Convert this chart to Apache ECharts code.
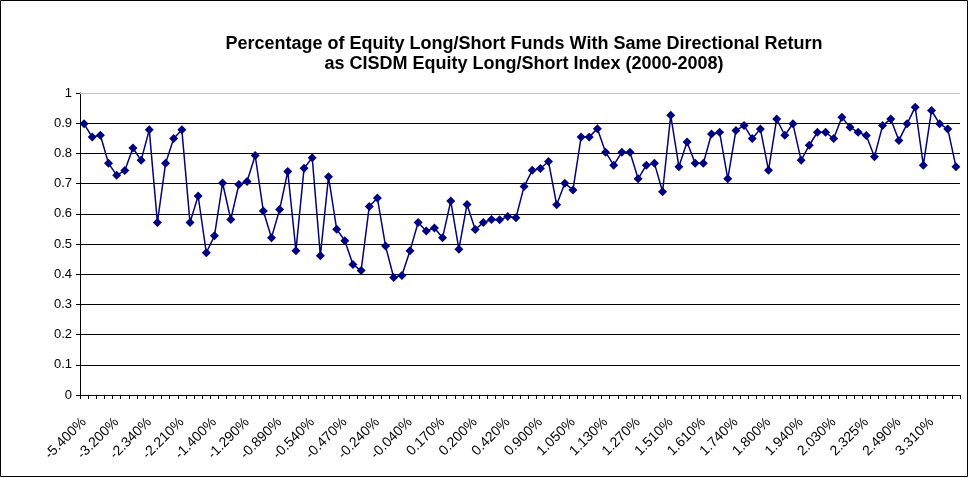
<!DOCTYPE html>
<html>
<head>
<meta charset="utf-8">
<script src="https://cdn.jsdelivr.net/npm/echarts@6/dist/echarts.min.js"></script>
<style>
  html, body { margin: 0; padding: 0; background: #fff; }
  #main { width: 970px; height: 478px; }
</style>
</head>
<body>
<div id="main"></div>
<script>
// labels shown on the x axis, one for every 4th category
const tickLabels = [
  "-5.400%", "-3.200%", "-2.340%", "-2.210%", "-1.400%", "-1.290%", "-0.890%",
  "-0.540%", "-0.470%", "-0.240%", "-0.040%", "0.170%", "0.200%", "0.420%",
  "0.900%", "1.050%", "1.130%", "1.270%", "1.510%", "1.610%", "1.740%",
  "1.800%", "1.940%", "2.030%", "2.325%", "2.490%", "3.310%"
];

// share of funds with the same directional return as the index
const sameDirection = [
  0.898, 0.854, 0.860, 0.767, 0.728, 0.743, 0.818, 0.777, 0.878, 0.571,
  0.767, 0.849, 0.878, 0.571, 0.659, 0.471, 0.527, 0.702, 0.581, 0.697,
  0.707, 0.793, 0.609, 0.521, 0.614, 0.740, 0.478, 0.751, 0.786, 0.461,
  0.723, 0.549, 0.511, 0.432, 0.412, 0.624, 0.652, 0.493, 0.389, 0.396,
  0.478, 0.571, 0.543, 0.553, 0.521, 0.642, 0.483, 0.631, 0.548, 0.571,
  0.581, 0.580, 0.591, 0.587, 0.690, 0.744, 0.750, 0.773, 0.630, 0.701,
  0.679, 0.854, 0.854, 0.882, 0.804, 0.761, 0.804, 0.804, 0.716, 0.761,
  0.767, 0.673, 0.926, 0.756, 0.838, 0.767, 0.767, 0.864, 0.870, 0.716,
  0.876, 0.892, 0.849, 0.881, 0.744, 0.914, 0.860, 0.898, 0.777, 0.827,
  0.870, 0.870, 0.849, 0.920, 0.887, 0.870, 0.859, 0.789, 0.892, 0.914,
  0.843, 0.898, 0.953, 0.761, 0.942, 0.898, 0.881, 0.756
];

// only every 4th category has a readable name; the rest stay blank
const categories = sameDirection.map(function (v, i) {
  return i % 4 === 0 ? tickLabels[i / 4] : "";
});

const chart = echarts.init(document.getElementById("main"));

const font = "Arial, 'Liberation Sans', sans-serif";

const option = {
  animation: false,
  title: {
    text: "Percentage of Equity Long/Short Funds With Same Directional Return\nas CISDM Equity Long/Short Index (2000-2008)",
    left: 519,
    top: 29,
    textAlign: "center",
    textStyle: {
      fontFamily: font,
      fontSize: 18,
      fontWeight: "bold",
      color: "#000",
      lineHeight: 20
    }
  },
  graphic: [
    {
      type: "rect",
      shape: { x: 0.5, y: 0.5, width: 967, height: 476 },
      style: { fill: "none", stroke: "#000", lineWidth: 1 },
      silent: true,
      z: -1
    }
  ],
  grid: {
    left: 80,
    right: 10,
    top: 93,
    bottom: 83
  },
  xAxis: {
    type: "category",
    data: categories,
    boundaryGap: true,
    axisLine: { lineStyle: { color: "#000", width: 1 } },
    axisTick: {
      show: true,
      interval: 0,
      length: 4,
      lineStyle: { color: "#000" }
    },
    axisLabel: {
      interval: 3,
      rotate: 45,
      fontFamily: font,
      fontSize: 14,
      color: "#000",
      margin: 25
    },
    splitLine: { show: false }
  },
  yAxis: {
    type: "value",
    min: 0,
    max: 1,
    interval: 0.1,
    axisLine: { show: true, lineStyle: { color: "#000", width: 1 } },
    axisTick: { show: true, length: 4, lineStyle: { color: "#000" } },
    axisLabel: {
      fontFamily: font,
      fontSize: 13,
      color: "#000",
      margin: 8,
      formatter: function (v) { return String(Math.round(v * 10) / 10); }
    },
    splitLine: {
      show: true,
      showMaxLine: false,
      lineStyle: { color: "#000", width: 1 }
    }
  },
  series: [
    {
      type: "line",
      data: sameDirection,
      symbol: "diamond",
      symbolSize: 9,
      showAllSymbol: true,
      itemStyle: { color: "#000080" },
      lineStyle: { color: "#000080", width: 1.5 },
      markLine: {
        silent: true,
        symbol: "none",
        label: { show: false },
        lineStyle: { color: "#c0c0c0", type: "solid", width: 1 },
        data: [{ yAxis: 1 }]
      }
    }
  ]
};

chart.setOption(option);
</script>
</body>
</html>
